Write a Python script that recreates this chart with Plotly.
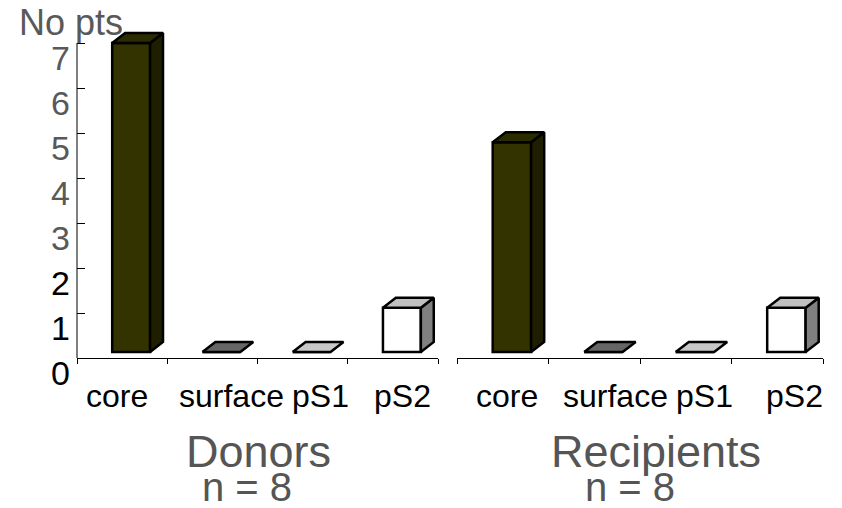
import plotly.graph_objects as go

# ---- data ----
categories = ["core", "surface", "pS1", "pS2"]
donors = [7, 0, 0, 1]
recipients = [4.75, 0, 0, 1]
y_tick_labels = ["0", "1", "2", "3", "4", "5", "6", "7"]
groups = ["Donors", "Recipients"]
group_n = ["n = 8", "n = 8"]

# ---- styling ----
W, H = 842, 508
FONT = "Liberation Sans, Arial, sans-serif"
front_col = ["#333300", "#808080", "#e0e0e0", "#ffffff"]
top_col = ["#2b2b00", "#666666", "#c8c8c8", "#c0c0c0"]
side_col = ["#1f1f00", "#4d4d4d", "#a0a0a0", "#808080"]
EDGE = 2.5
HALF_W = 0.21          # half width of the front face (category units)
DX, DY = 0.143, 0.227  # 3D depth offset (x in category units, y in value units)
BAR_SHIFT = 0.1        # bars sit slightly right of the category centre
PX_PER_UNIT = 44.14
Y0 = -6 / PX_PER_UNIT               # floor sits a little above the axis line
Y_TOP = (352 - 20) / PX_PER_UNIT

def px(x):
    return x / W

def py(y):
    return 1 - y / H

fig = go.Figure()

panels = [("x", "y", donors), ("x2", "y2", recipients)]
for xa, ya, vals in panels:
    xs = [i + BAR_SHIFT for i in range(len(categories))]
    # front faces
    fig.add_trace(go.Bar(
        x=xs, y=vals, width=2 * HALF_W, xaxis=xa, yaxis=ya,
        marker=dict(color=front_col, line=dict(color="black", width=EDGE)),
        showlegend=False, hoverinfo="skip",
    ))
    for i, (c, v) in enumerate(zip(xs, vals)):
        # side face
        if v > 0:
            fig.add_trace(go.Scatter(
                x=[c + HALF_W, c + HALF_W + DX, c + HALF_W + DX, c + HALF_W, c + HALF_W],
                y=[0, DY, v + DY, v, 0],
                xaxis=xa, yaxis=ya, mode="lines", fill="toself",
                fillcolor=side_col[i], line=dict(color="black", width=EDGE),
                showlegend=False, hoverinfo="skip",
            ))
        # top face
        fig.add_trace(go.Scatter(
            x=[c - HALF_W, c + HALF_W, c + HALF_W + DX, c - HALF_W + DX, c - HALF_W],
            y=[v, v, v + DY, v + DY, v],
            xaxis=xa, yaxis=ya, mode="lines", fill="toself",
            fillcolor=top_col[i], line=dict(color="black", width=EDGE),
            showlegend=False, hoverinfo="skip",
        ))

# y tick positions span the axis line from its foot to the top tick
n_ticks = len(y_tick_labels)
tick_step = (7 - Y0) / (n_ticks - 1)
tick_vals = [Y0 + k * tick_step for k in range(n_ticks)]

xaxis_common = dict(
    range=[-0.5, 3.5], tickvals=[-0.5, 0.5, 1.5, 2.5, 3.5],
    ticks="outside", ticklen=5, tickcolor="black", tickwidth=1,
    showticklabels=False, showline=True, linecolor="black", linewidth=1,
    showgrid=False, zeroline=False,
)
y_dom = [py(358), py(20)]

fig.update_layout(
    width=W, height=H,
    margin=dict(l=0, r=0, t=0, b=0),
    paper_bgcolor="white", plot_bgcolor="white",
    barmode="overlay",
    xaxis=dict(domain=[px(77), px(438)], anchor="y", **xaxis_common),
    xaxis2=dict(domain=[px(457), px(823)], anchor="y2", **xaxis_common),
    yaxis=dict(domain=y_dom, anchor="x", range=[Y0, Y_TOP],
               tickvals=tick_vals, ticks="inside", ticklen=8,
               tickcolor="black", tickwidth=1, showticklabels=False,
               showline=False, showgrid=False, zeroline=False),
    yaxis2=dict(domain=y_dom, anchor="x2", matches="y", range=[Y0, Y_TOP],
                showticklabels=False, ticks="", showline=False,
                showgrid=False, zeroline=False),
    font=dict(family=FONT),
)

# y axis line (from the foot to the top tick)
fig.add_shape(type="line", xref="x domain", yref="y", x0=0, x1=0,
              y0=Y0, y1=7, line=dict(color="black", width=1))

annotations = []
# y tick labels, set a little below their tick marks
for k, lab in enumerate(y_tick_labels):
    annotations.append(dict(
        text=lab, xref="paper", yref="y", x=px(72), y=tick_vals[k],
        xanchor="right", yanchor="middle", yshift=-15, showarrow=False,
        font=dict(size=34, color="black" if k <= 2 else "#595959", family=FONT),
    ))

annotations.append(dict(
    text="No pts", xref="paper", yref="paper", x=px(17), y=py(22),
    xanchor="left", yanchor="middle", showarrow=False,
    font=dict(size=36, color="#595959", family=FONT),
))

# category labels
label_shift = {"x": [-5, 19, 18, 10], "x2": [4, 21, 19, 17]}
for xa in ("x", "x2"):
    for i, cat in enumerate(categories):
        annotations.append(dict(
            text=cat, xref=xa, yref="paper", x=i, y=py(396),
            xshift=label_shift[xa][i], xanchor="center", yanchor="middle",
            showarrow=False, font=dict(size=32, color="black", family=FONT),
        ))

# group titles
title_x = [258, 656]
n_x = [247, 630]
for g, n, tx, nx in zip(groups, group_n, title_x, n_x):
    annotations.append(dict(
        text=g, xref="paper", yref="paper", x=px(tx), y=py(451),
        xanchor="center", yanchor="middle", showarrow=False,
        font=dict(size=45, color="#555555", family=FONT),
    ))
    annotations.append(dict(
        text=n, xref="paper", yref="paper", x=px(nx), y=py(487),
        xanchor="center", yanchor="middle", showarrow=False,
        font=dict(size=40, color="#555555", family=FONT),
    ))

fig.update_layout(annotations=annotations)
fig.write_html("out.html")
